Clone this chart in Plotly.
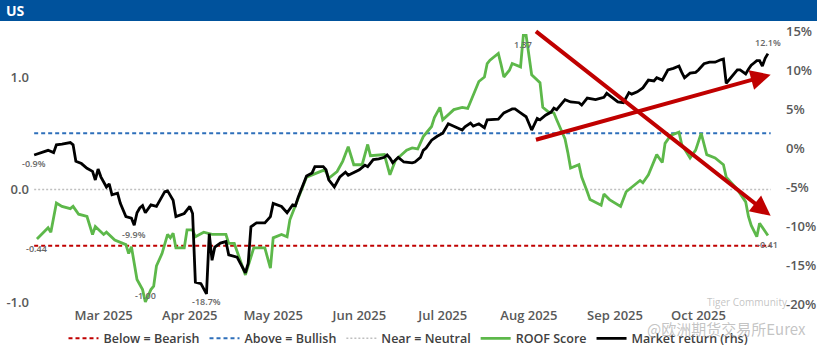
import plotly.graph_objects as go

# ---------------- data ----------------
market_dates = [
    "2025-02-04", "2025-02-07", "2025-02-09", "2025-02-11", "2025-02-12", "2025-02-14", "2025-02-17", "2025-02-18",
    "2025-02-19", "2025-02-21", "2025-02-23", "2025-02-25", "2025-02-26", "2025-02-27", "2025-02-28",
    "2025-03-02", "2025-03-03", "2025-03-04", "2025-03-06", "2025-03-07", "2025-03-09", "2025-03-11", "2025-03-12",
    "2025-03-13", "2025-03-14", "2025-03-15", "2025-03-16", "2025-03-18", "2025-03-20", "2025-03-23", "2025-03-24",
    "2025-03-26", "2025-03-27", "2025-03-30",
    "2025-04-01", "2025-04-02", "2025-04-03", "2025-04-05", "2025-04-07", "2025-04-08", "2025-04-09", "2025-04-10",
    "2025-04-12", "2025-04-14", "2025-04-15", "2025-04-18", "2025-04-21", "2025-04-22", "2025-04-23", "2025-04-25",
    "2025-04-28", "2025-04-30",
    "2025-05-01", "2025-05-04", "2025-05-06", "2025-05-08", "2025-05-09", "2025-05-10", "2025-05-12", "2025-05-13",
    "2025-05-15", "2025-05-16", "2025-05-19", "2025-05-20", "2025-05-21", "2025-05-23", "2025-05-25", "2025-05-27",
    "2025-05-28", "2025-05-30",
    "2025-06-01", "2025-06-03", "2025-06-04", "2025-06-06", "2025-06-08", "2025-06-10", "2025-06-11", "2025-06-12",
    "2025-06-13", "2025-06-15", "2025-06-17", "2025-06-20", "2025-06-21", "2025-06-23", "2025-06-24", "2025-06-25",
    "2025-06-27", "2025-06-29",
    "2025-07-01", "2025-07-03", "2025-07-06", "2025-07-08", "2025-07-09", "2025-07-11", "2025-07-12", "2025-07-14",
    "2025-07-16", "2025-07-17", "2025-07-21", "2025-07-23", "2025-07-26", "2025-07-27", "2025-07-29", "2025-07-31",
    "2025-08-02", "2025-08-03", "2025-08-04", "2025-08-05", "2025-08-07", "2025-08-09", "2025-08-10", "2025-08-11",
    "2025-08-14", "2025-08-16", "2025-08-19", "2025-08-20", "2025-08-22", "2025-08-25", "2025-08-28", "2025-08-29",
    "2025-08-31",
    "2025-09-02", "2025-09-04", "2025-09-06", "2025-09-07", "2025-09-09", "2025-09-11", "2025-09-13", "2025-09-15",
    "2025-09-16", "2025-09-18", "2025-09-20", "2025-09-22", "2025-09-24", "2025-09-25", "2025-09-26", "2025-09-28",
    "2025-09-30",
    "2025-10-01", "2025-10-03", "2025-10-05", "2025-10-07", "2025-10-09", "2025-10-10", "2025-10-11", "2025-10-12",
    "2025-10-15", "2025-10-16", "2025-10-18", "2025-10-19", "2025-10-20", "2025-10-21", "2025-10-22", "2025-10-23",
    "2025-10-24", "2025-10-25", "2025-10-26",
]
market_return = [
    -0.9, -0.5, -0.3, -0.6, 0.4, 0.5, 0.7, 0.4,
    -1.7, -2.0, -2.6, -3.0, -4.1, -2.7, -3.7,
    -5.0, -4.6, -6.0, -5.8, -7.1, -8.8, -9.0, -9.9,
    -8.3, -7.7, -7.4, -8.3, -7.3, -7.5, -5.6, -5.5,
    -6.7, -8.8, -8.4,
    -7.5, -8.4, -17.2, -17.4, -18.7, -11.0, -14.4, -12.7,
    -12.2, -12.0, -13.7, -14.0, -16.0, -14.8, -10.1, -9.6,
    -9.6, -8.8,
    -7.1, -7.5, -8.3, -7.3, -7.4, -6.3, -4.5, -3.6,
    -3.2, -2.4, -2.4, -2.8, -4.1, -5.0, -3.7, -3.1,
    -3.5, -3.1,
    -2.8, -2.2, -2.4, -1.5, -1.4, -1.2, -0.9, -1.3,
    -1.9, -1.2, -1.8, -1.9, -1.8, -1.2, -0.3, 0.0,
    1.0, 1.5,
    1.9, 3.1, 2.6, 2.3, 2.7, 3.2, 2.8, 3.1,
    2.6, 3.6, 3.7, 4.5, 5.0, 5.0, 4.5, 4.0,
    2.3, 3.0, 3.8, 3.6, 4.2, 4.6, 5.1, 4.9,
    6.2, 5.9, 5.8, 5.5, 6.4, 6.2, 6.5, 7.0,
    6.4,
    5.9, 5.8, 7.1, 6.9, 7.2, 7.7, 8.7, 8.6,
    9.0, 8.7, 10.0, 10.2, 10.5, 9.7, 9.0, 9.6,
    9.7,
    10.0, 10.8, 11.0, 11.0, 11.3, 11.4, 8.3, 8.7,
    10.0, 10.0, 9.5, 10.1, 10.6, 10.9, 11.2, 11.2,
    10.5, 11.5, 12.1,
]

roof_dates = [
    "2025-02-05", "2025-02-09", "2025-02-10", "2025-02-12", "2025-02-14", "2025-02-17", "2025-02-18", "2025-02-20",
    "2025-02-23", "2025-02-25", "2025-02-26",
    "2025-03-01", "2025-03-02", "2025-03-05", "2025-03-09", "2025-03-10", "2025-03-11", "2025-03-13", "2025-03-15",
    "2025-03-16", "2025-03-18", "2025-03-19", "2025-03-20", "2025-03-22", "2025-03-24", "2025-03-25", "2025-03-26",
    "2025-03-27", "2025-03-30", "2025-03-31",
    "2025-04-02", "2025-04-03", "2025-04-06", "2025-04-09", "2025-04-14", "2025-04-15", "2025-04-17", "2025-04-21",
    "2025-04-24", "2025-04-28", "2025-04-30",
    "2025-05-01", "2025-05-04", "2025-05-06", "2025-05-07", "2025-05-10", "2025-05-13", "2025-05-15", "2025-05-19",
    "2025-05-20", "2025-05-21", "2025-05-24", "2025-05-26", "2025-05-28", "2025-05-30",
    "2025-06-02", "2025-06-04", "2025-06-05", "2025-06-09", "2025-06-10", "2025-06-12", "2025-06-14", "2025-06-18",
    "2025-06-20", "2025-06-22", "2025-06-24", "2025-06-27", "2025-06-28", "2025-06-30",
    "2025-07-01", "2025-07-05", "2025-07-08", "2025-07-10", "2025-07-14", "2025-07-16", "2025-07-17", "2025-07-18",
    "2025-07-21", "2025-07-22", "2025-07-23", "2025-07-25", "2025-07-26", "2025-07-29", "2025-07-30", "2025-07-31",
    "2025-08-01", "2025-08-02", "2025-08-05", "2025-08-06", "2025-08-08", "2025-08-10", "2025-08-11", "2025-08-14",
    "2025-08-15", "2025-08-16", "2025-08-19", "2025-08-20", "2025-08-22", "2025-08-23", "2025-08-27", "2025-08-28",
    "2025-08-30",
    "2025-09-01", "2025-09-03", "2025-09-05", "2025-09-07", "2025-09-10", "2025-09-11", "2025-09-13", "2025-09-16",
    "2025-09-18", "2025-09-19", "2025-09-21", "2025-09-24", "2025-09-25", "2025-09-28", "2025-09-30",
    "2025-10-02", "2025-10-04", "2025-10-07", "2025-10-09", "2025-10-10", "2025-10-11", "2025-10-15", "2025-10-18",
    "2025-10-19", "2025-10-20", "2025-10-22", "2025-10-23", "2025-10-25", "2025-10-26",
]
roof_score = [
    -0.44, -0.34, -0.38, -0.12, -0.15, -0.17, -0.15, -0.22,
    -0.24, -0.40, -0.33,
    -0.40, -0.38, -0.45, -0.49, -0.57, -0.51, -0.80, -0.89,
    -1.00, -0.89, -0.86, -0.68, -0.57, -0.40, -0.43, -0.39,
    -0.52, -0.52, -0.36,
    -0.36, -0.42, -0.38, -0.40, -0.40, -0.48, -0.48, -0.76,
    -0.52, -0.52, -0.70,
    -0.43, -0.40, -0.42, -0.27, -0.08, 0.11, 0.13, 0.17,
    0.16, 0.10, 0.16, 0.25, 0.38, 0.22,
    0.22, 0.40, 0.30, 0.31, 0.31, 0.13, 0.26, 0.35,
    0.37, 0.36, 0.47, 0.56, 0.64, 0.73,
    0.62, 0.71, 0.73, 0.72, 0.96, 1.00, 1.12, 1.15,
    1.21, 1.11, 1.00, 1.06, 1.12, 1.09, 1.37, 1.37,
    1.21, 1.02, 0.95, 0.73, 0.69, 0.68, 0.62, 0.45,
    0.33, 0.19, 0.22, 0.11, -0.02, -0.09, -0.14, -0.04,
    -0.09,
    -0.12, -0.15, -0.02, 0.02, 0.08, 0.06, 0.13, 0.31,
    0.24, 0.41, 0.48, 0.51, 0.40, 0.28, 0.35,
    0.50, 0.31, 0.28, 0.24, 0.22, 0.11, 0.00, -0.11,
    -0.24, -0.32, -0.42, -0.30, -0.38, -0.41,
]

bearish_level = -0.5
bullish_level = 0.5
neutral_level = 0.0

month_ticks = ["2025-03-01", "2025-04-01", "2025-05-01", "2025-06-01",
               "2025-07-01", "2025-08-01", "2025-09-01", "2025-10-01"]
left_ticks = [-1.0, 0.0, 1.0]
left_labels = ["-1.0", "0.0", "1.0"]
right_ticks = [-20, -15, -10, -5, 0, 5, 10, 15]
right_labels = ["-20%", "-15%", "-10%", "-5%", "0%", "5%", "10%", "15%"]

# hand-drawn trend arrows: (start date, start %, end date, end %)
trend_arrows = [
    ("2025-08-03", 15.1, "2025-10-27", -8.7),
    ("2025-08-03", 1.0, "2025-10-27", 9.4),
]

# ---------------- figure ----------------
GREY = "#595959"
FONT = "Open Sans"
fig = go.Figure()

line_span = [market_dates[0], "2025-10-27"]
fig.add_trace(go.Scatter(x=line_span, y=[bearish_level] * 2, mode="lines", name="Below = Bearish",
                         line=dict(color="#C00000", width=2, dash="4px,3px"), hoverinfo="skip"))
fig.add_trace(go.Scatter(x=line_span, y=[bullish_level] * 2, mode="lines", name="Above = Bullish",
                         line=dict(color="#2E6FBA", width=2, dash="4px,3px"), hoverinfo="skip"))
fig.add_trace(go.Scatter(x=line_span, y=[neutral_level] * 2, mode="lines", name="Near = Neutral",
                         line=dict(color="#BFBFBF", width=1.5, dash="2px,2px"), hoverinfo="skip"))
fig.add_trace(go.Scatter(x=roof_dates, y=roof_score, mode="lines", name="ROOF Score",
                         line=dict(color="#5DB84A", width=2.8)))
fig.add_trace(go.Scatter(x=market_dates, y=market_return, mode="lines", name="Market return (rhs)",
                         line=dict(color="#000000", width=2.8), yaxis="y2"))

annotations = []
lab_font = dict(family=FONT, size=9, color="#666666", weight=600)


def label(x, y, text, yref, yshift):
    annotations.append(dict(x=x, y=y, xref="x", yref=yref, text=text, showarrow=False,
                            yshift=yshift, font=lab_font))


# market labels: first, March low, overall low, last
label(market_dates[0], market_return[0], f"{market_return[0]:.1f}%", "y2", -9)
mar_idx = [i for i, d in enumerate(market_dates) if d < "2025-04-01"]
i_mar = min(mar_idx, key=lambda i: market_return[i])
label(market_dates[i_mar], market_return[i_mar], f"{market_return[i_mar]:.1f}%", "y2", -9)
i_min = min(range(len(market_return)), key=lambda i: market_return[i])
label(market_dates[i_min], market_return[i_min], f"{market_return[i_min]:.1f}%", "y2", -8)
label(market_dates[-1], market_return[-1], f"{market_return[-1]:.1f}%", "y2", 11)

# roof labels: first, min, max, last
label(roof_dates[0], roof_score[0], f"{roof_score[0]:.2f}", "y", -10)
j_min = min(range(len(roof_score)), key=lambda i: roof_score[i])
label(roof_dates[j_min], roof_score[j_min], f"{roof_score[j_min]:.2f}", "y", 6)
j_max = max(range(len(roof_score)), key=lambda i: roof_score[i])
label(roof_dates[j_max], roof_score[j_max], f"{roof_score[j_max]:.2f}", "y", -9)
label(roof_dates[-1], roof_score[-1], f"{roof_score[-1]:.2f}", "y", -9)

for x0, y0, x1, y1 in trend_arrows:
    annotations.append(dict(x=x1, y=y1, xref="x", yref="y2", ax=x0, ay=y0, axref="x", ayref="y2",
                            text="", showarrow=True, arrowhead=2, arrowsize=1.0, arrowwidth=4,
                            arrowcolor="#C00000", standoff=0))

# header text
annotations.append(dict(x=-0.035, y=1.0405, xref="paper", yref="paper", xanchor="left", yanchor="middle",
                        text="<b>US</b>", showarrow=False, font=dict(family=FONT, size=14, color="white")))
# watermarks
annotations.append(dict(x=0.908, y=0.014, xref="paper", yref="paper", xanchor="left", yanchor="middle",
                        text="Tiger Community", showarrow=False,
                        font=dict(family=FONT, size=10, color="rgba(170,170,170,0.7)")))
annotations.append(dict(x=0.828, y=-0.0775, xref="paper", yref="paper", xanchor="left", yanchor="middle",
                        text="@欧洲期货交易所Eurex", showarrow=False,
                        font=dict(family="Noto Sans CJK SC", size=15, color="rgba(170,170,170,0.7)")))

tickfont = dict(family=FONT, size=13, color=GREY, weight=600)

fig.update_layout(
    width=817, height=351,
    margin=dict(l=30, r=44, t=22, b=45, autoexpand=False),
    paper_bgcolor="white", plot_bgcolor="white",
    showlegend=True,
    legend=dict(orientation="h", x=0.5, xanchor="center", xref="container",
                y=0.035, yanchor="middle", yref="container",
                font=dict(family=FONT, size=12.5, color="#404040", weight=600),
                itemwidth=30, bgcolor="rgba(0,0,0,0)", tracegroupgap=0),
    xaxis=dict(type="date", range=["2025-02-02 12:00", "2025-10-27 20:00"],
               tickvals=month_ticks, tickformat="%b %Y", showgrid=False, zeroline=False,
               showline=False, ticks="", tickfont=tickfont, automargin=False),
    yaxis=dict(range=[-1.036, 1.489], tickvals=left_ticks, ticktext=left_labels,
               showgrid=False, zeroline=False, showline=False, ticks="", tickfont=tickfont,
               automargin=False),
    yaxis2=dict(range=[-20.26, 16.15], tickvals=right_ticks, ticktext=right_labels, overlaying="y",
                side="right", showgrid=False, zeroline=False, showline=False, ticks="",
                tickfont=tickfont, ticklabelstandoff=12, automargin=False),
    annotations=annotations,
    shapes=[dict(type="rect", xref="paper", yref="paper", x0=-0.05, x1=1.07, y0=1.0035, y1=1.1,
                 fillcolor="#00529C", line=dict(width=0), layer="above")],
)

fig.write_html("out.html")
